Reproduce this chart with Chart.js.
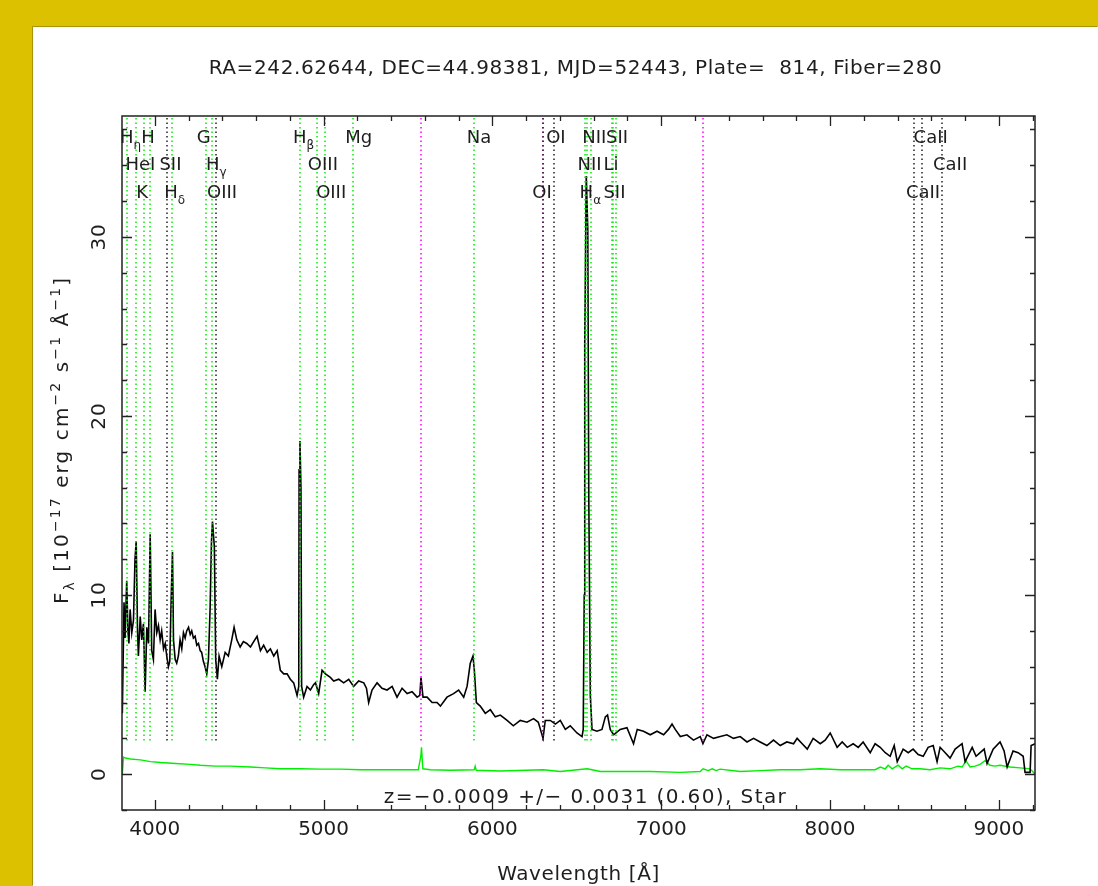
<!DOCTYPE html>
<html>
<head>
<meta charset="utf-8">
<script src="https://cdn.jsdelivr.net/npm/chart.js@4/dist/chart.umd.min.js"></script>
<style>
  html, body { margin: 0; padding: 0; width: 1098px; height: 886px; overflow: hidden; background: #dcc100; }
  #panel { position: absolute; left: 33px; top: 27px; width: 1065px; height: 859px; background: #fff;
           box-shadow: -1px -1px 0 #a89300; }
  #wrap { position: absolute; left: 0; top: 0; width: 1098px; height: 886px; }
</style>
</head>
<body>
<div id="panel"></div>
<div id="wrap"><canvas id="spec"></canvas></div>
<script>
// SDSS spectrum plot: flux (black), error (green), line markers (dotted).

const TITLE = 'RA=242.62644, DEC=44.98381, MJD=52443, Plate=  814, Fiber=280';
const ZTEXT = 'z=\u22120.0009 +/\u2212 0.0031 (0.60), Star';

const xMajor = [4000, 5000, 6000, 7000, 8000, 9000];
const yMajor = [0, 10, 20, 30];

// flux, 1e-17 erg/cm2/s/A
const specWave = [
  3808, 3818, 3824, 3834, 3841, 3847, 3854, 3864, 3874, 3883, 3890, 3898, 3903, 3914, 3923, 3933,
  3943, 3953, 3963, 3973, 3982, 3992, 4002, 4012, 4022, 4032, 4041, 4052, 4062, 4071, 4081, 4089,
  4097, 4105, 4111, 4121, 4130, 4140, 4150, 4160, 4170, 4180, 4189, 4200, 4210, 4219, 4229, 4239,
  4249, 4259, 4269, 4278, 4288, 4298, 4308, 4318, 4328, 4336, 4342, 4353, 4361, 4371, 4381, 4397,
  4407, 4417, 4436, 4456, 4470, 4486, 4506, 4525, 4545, 4567, 4586, 4606, 4626, 4645, 4666, 4685,
  4705, 4725, 4744, 4764, 4784, 4803, 4823, 4843, 4853, 4855, 4860, 4866, 4870, 4882, 4902, 4922,
  4941, 4952, 4971, 4991, 5011, 5040, 5060, 5090, 5119, 5149, 5178, 5208, 5238, 5254, 5267, 5287,
  5317, 5346, 5376, 5406, 5435, 5465, 5495, 5524, 5554, 5570, 5577, 5589, 5613, 5643, 5672, 5692,
  5731, 5770, 5800, 5830, 5850, 5869, 5885, 5893, 5905, 5928, 5958, 5988, 6017, 6047, 6087, 6124,
  6165, 6205, 6244, 6272, 6300, 6313, 6343, 6373, 6402, 6432, 6461, 6501, 6531, 6538, 6544, 6547,
  6556, 6565, 6571, 6580, 6590, 6619, 6649, 6669, 6682, 6698, 6718, 6757, 6797, 6836, 6858, 6895,
  6935, 6975, 7014, 7043, 7064, 7083, 7113, 7152, 7191, 7231, 7247, 7271, 7310, 7350, 7389, 7428,
  7468, 7508, 7547, 7586, 7626, 7665, 7705, 7744, 7784, 7805, 7835, 7865, 7900, 7942, 7971, 8001,
  8042, 8072, 8102, 8137, 8167, 8196, 8238, 8267, 8297, 8327, 8356, 8380, 8398, 8433, 8463, 8492,
  8522, 8552, 8581, 8611, 8634, 8652, 8682, 8711, 8741, 8782, 8800, 8842, 8865, 8889, 8913, 8930,
  8966, 9007, 9031, 9049, 9084, 9114, 9144, 9155, 9185, 9191, 9215,
];
const specFlux = [
  3.4, 9.6, 7.6, 10.8, 8.0, 7.3, 9.2, 7.9, 8.6, 12.0, 13.0, 8.0, 6.6, 8.8, 7.5, 8.4,
  4.6, 8.2, 7.3, 13.4, 6.9, 6.4, 9.2, 7.9, 8.3, 7.5, 8.0, 7.0, 7.3, 6.6, 6.0, 6.3,
  9.7, 12.4, 7.5, 6.4, 6.2, 6.6, 7.5, 7.0, 7.9, 7.6, 8.0, 8.2, 7.8, 8.0, 7.6, 7.7,
  7.2, 7.3, 6.9, 6.8, 6.3, 6.0, 5.6, 6.4, 9.3, 13.0, 14.1, 12.7, 6.4, 5.3, 6.6, 6.0,
  6.4, 6.8, 6.6, 7.5, 8.2, 7.5, 7.1, 7.4, 7.3, 7.1, 7.4, 7.7, 6.9, 7.2, 6.8, 7.0,
  6.6, 6.9, 5.8, 5.6, 5.6, 5.3, 5.1, 4.4, 4.9, 17.0, 18.6, 16.0, 4.9, 4.3, 4.9, 4.7,
  5.0, 5.1, 4.5, 5.8, 5.6, 5.4, 5.2, 5.3, 5.1, 5.3, 4.9, 5.2, 5.1, 4.8, 4.0, 4.7,
  5.1, 4.8, 4.7, 4.9, 4.3, 4.8, 4.5, 4.6, 4.3, 4.4, 5.4, 4.3, 4.3, 4.0, 4.0, 3.8,
  4.3, 4.5, 4.7, 4.3, 4.9, 6.2, 6.6, 5.8, 4.0, 3.8, 3.4, 3.6, 3.2, 3.3, 3.0, 2.7,
  3.0, 2.9, 3.1, 2.9, 2.0, 3.0, 3.0, 2.8, 3.0, 2.5, 2.7, 2.3, 2.1, 2.5, 10.0, 24.0,
  33.4, 30.4, 15.4, 4.4, 2.5, 2.4, 2.5, 3.2, 3.3, 2.5, 2.2, 2.5, 2.6, 1.7, 2.5, 2.4,
  2.2, 2.4, 2.2, 2.5, 2.8, 2.5, 2.1, 2.2, 1.9, 2.1, 1.7, 2.2, 2.0, 2.1, 2.2, 2.0,
  2.1, 1.8, 2.0, 1.8, 1.6, 1.9, 1.6, 1.8, 1.7, 2.0, 1.7, 1.4, 2.0, 1.7, 1.9, 2.3,
  1.5, 1.8, 1.5, 1.7, 1.5, 1.8, 1.2, 1.7, 1.5, 1.2, 1.0, 1.6, 0.7, 1.4, 1.2, 1.4,
  1.1, 1.0, 1.5, 1.6, 0.7, 1.5, 1.2, 0.9, 1.4, 1.7, 0.7, 1.5, 1.0, 1.2, 1.4, 0.6,
  1.4, 1.8, 1.3, 0.4, 1.3, 1.2, 1.0, 0.1, 0.1, 1.6, 1.7,
];

// 1-sigma error spectrum
const errWave = [
  3808, 3815, 3827, 3856, 3915, 3975, 4034, 4123, 4211, 4270, 4359, 4448, 4567, 4656, 4744, 4863,
  4981, 5099, 5218, 5336, 5455, 5561, 5576, 5580, 5588, 5632, 5750, 5892, 5898, 5904, 6047, 6301,
  6402, 6562, 6639, 6935, 7112, 7231, 7248, 7278, 7302, 7325, 7349, 7467, 7586, 7704, 7823, 7941,
  8060, 8178, 8267, 8297, 8327, 8344, 8368, 8403, 8427, 8451, 8486, 8533, 8592, 8652, 8711, 8758,
  8782, 8806, 8829, 8859, 8889, 8918, 8948, 8977, 9007, 9066, 9126, 9185, 9215,
];
const errFlux = [
  0.0, 0.95, 0.9, 0.85, 0.8, 0.7, 0.65, 0.6, 0.55, 0.5, 0.45, 0.45, 0.4, 0.35, 0.3, 0.3,
  0.28, 0.28, 0.25, 0.25, 0.25, 0.25, 1.0, 1.5, 0.3, 0.25, 0.22, 0.25, 0.45, 0.22, 0.18, 0.25,
  0.15, 0.3, 0.15, 0.15, 0.1, 0.15, 0.3, 0.2, 0.3, 0.2, 0.28, 0.15, 0.2, 0.25, 0.25, 0.3,
  0.25, 0.25, 0.25, 0.4, 0.3, 0.5, 0.3, 0.5, 0.3, 0.45, 0.3, 0.3, 0.25, 0.35, 0.3, 0.45,
  0.4, 0.75, 0.4, 0.45, 0.55, 0.75, 0.5, 0.45, 0.5, 0.4, 0.35, 0.3, 0.0,
];

// line markers
const markWave = [3835, 3889, 3934, 3969, 4072, 4102, 4305, 4341, 4363, 4861, 4959, 5007, 5175, 5577,
  5892, 6300, 6300, 6363, 6548, 6563, 6583, 6708, 6716, 6731, 7246, 8498, 8542, 8662];
const markKind = ['e', 'e', 'e', 'e', 'a', 'e', 'e', 'e', 'a', 'e', 'e', 'e', 'e', 's',
  'e', 's', 'a', 'a', 'e', 'e', 'e', 'e', 'e', 'e', 's', 'a', 'a', 'a'];

const labelText = ['H', 'H', 'G', 'H', 'Mg', 'Na', 'OI', 'NII', 'SII', 'CaII',
  'HeI', 'SII', 'H', 'OIII', 'NII', 'Li', 'CaII',
  'K', 'H', 'OIII', 'OIII', 'OI', 'H', 'SII', 'CaII'];
const labelSub = ['\u03b7', '', '', '\u03b2', '', '', '', '', '', '',
  '', '', '\u03b3', '', '', '', '',
  '', '\u03b4', '', '', '', '\u03b1', '', ''];
const labelRow = [0, 0, 0, 0, 0, 0, 0, 0, 0, 0,
  1, 1, 1, 1, 1, 1, 1,
  2, 2, 2, 2, 2, 2, 2, 2];
const labelWave = [3857, 3960, 4290, 4882, 5208, 5921, 6376, 6604, 6738, 8596,
  3915, 4093, 4364, 4996, 6575, 6703, 8711,
  3925, 4118, 4399, 5045, 6294, 6580, 6723, 8551];

const FONT = '"DejaVu Sans", sans-serif';
const INK = '#1e1e1e';
const KIND_COLOR = { e: '#00ee00', a: '#222222', s: '#ff00ff' };

function richWidth(ctx, parts, size, ratio) {
  let w = 0;
  for (const p of parts) {
    ctx.font = `${p.s ? Math.round(size * ratio) : size}px ${FONT}`;
    w += ctx.measureText(p.t).width;
  }
  return w;
}

// parts: {t, s: 'sub'|'sup'|undefined}; draws centred on x, baseline y
function drawRich(ctx, parts, x, y, size, ratio = 0.68, spacing = 0) {
  ctx.letterSpacing = spacing + 'px';
  const w = richWidth(ctx, parts, size, ratio);
  let cx = x - w / 2;
  ctx.textAlign = 'left';
  ctx.textBaseline = 'alphabetic';
  for (const p of parts) {
    const sz = p.s ? Math.round(size * ratio) : size;
    ctx.font = `${sz}px ${FONT}`;
    const dy = p.s === 'sub' ? size * 0.32 : p.s === 'sup' ? -size * 0.42 : 0;
    ctx.fillText(p.t, cx, y + dy);
    cx += ctx.measureText(p.t).width;
  }
  ctx.letterSpacing = '0px';
}

const markerPlugin = {
  id: 'line-markers',
  afterDatasetsDraw(chart) {
    const { ctx, chartArea, scales } = chart;
    const yb = scales.y.getPixelForValue(1.85);
    ctx.save();
    ctx.lineWidth = 1.5;
    ctx.setLineDash([1.5, 3]);
    markWave.forEach((w, i) => {
      const px = Math.round(scales.x.getPixelForValue(w));
      ctx.strokeStyle = KIND_COLOR[markKind[i]];
      ctx.beginPath();
      ctx.moveTo(px, chartArea.top + 2);
      ctx.lineTo(px, yb);
      ctx.stroke();
    });
    ctx.setLineDash([]);
    // labels in three rows
    ctx.fillStyle = INK;
    const rows = [27, 54, 82];
    labelText.forEach((t, i) => {
      const px = scales.x.getPixelForValue(labelWave[i]);
      const parts = [{ t }];
      if (labelSub[i]) parts.push({ t: labelSub[i], s: 'sub' });
      drawRich(ctx, parts, px, chartArea.top + rows[labelRow[i]], 18);
    });
    ctx.restore();
  },
};

const framePlugin = {
  id: 'sdss-frame',
  afterDraw(chart) {
    const { ctx, chartArea: a, scales } = chart;
    const xs = scales.x, ys = scales.y;
    ctx.save();
    ctx.strokeStyle = '#222';
    ctx.lineWidth = 1.5;
    ctx.strokeRect(a.left, a.top, a.right - a.left, a.bottom - a.top);
    ctx.lineWidth = 1.3;
    ctx.beginPath();
    for (let v = 4000; v <= xs.max; v += 200) {
      const px = Math.round(xs.getPixelForValue(v)) + 0.5;
      const len = v % 1000 === 0 ? 10 : 5;
      ctx.moveTo(px, a.bottom); ctx.lineTo(px, a.bottom - len);
      ctx.moveTo(px, a.top); ctx.lineTo(px, a.top + len);
    }
    for (let v = -2; v <= ys.max; v += 2) {
      const py = Math.round(ys.getPixelForValue(v)) + 0.5;
      const len = v % 10 === 0 ? 10 : 5;
      ctx.moveTo(a.left, py); ctx.lineTo(a.left + len, py);
      ctx.moveTo(a.right, py); ctx.lineTo(a.right - len, py);
    }
    ctx.stroke();

    ctx.fillStyle = INK;
    // rotated y tick labels
    ctx.font = `20px ${FONT}`;
    ctx.letterSpacing = '1px';
    ctx.textAlign = 'center';
    ctx.textBaseline = 'middle';
    for (const v of yMajor) {
      ctx.save();
      ctx.translate(a.left - 22, ys.getPixelForValue(v));
      ctx.rotate(-Math.PI / 2);
      ctx.fillText(String(v), 0, 0);
      ctx.restore();
    }
    ctx.letterSpacing = '0px';

    const cx = (a.left + a.right) / 2;
    drawRich(ctx, [{ t: TITLE }], cx - 3, 74, 20, 0.68, 0.6);
    drawRich(ctx, [{ t: ZTEXT }], cx + 7, 803, 20, 0.68, 1.4);
    drawRich(ctx, [{ t: 'Wavelength [\u00c5]' }], cx, 880, 20, 0.68, 0.6);

    ctx.save();
    ctx.translate(a.left - 54, 440);
    ctx.rotate(-Math.PI / 2);
    drawRich(ctx, [
      { t: 'F' }, { t: '\u03bb', s: 'sub' }, { t: ' [10' }, { t: '\u221217', s: 'sup' },
      { t: ' erg cm' }, { t: '\u22122', s: 'sup' }, { t: ' s' }, { t: '\u22121', s: 'sup' },
      { t: ' \u00c5' }, { t: '\u22121', s: 'sup' }, { t: ']' },
    ], 0, 0, 20, 0.72, 2.1);
    ctx.restore();
    ctx.restore();
  },
};

const specData = specWave.map((w, i) => ({ x: w, y: specFlux[i] }));
const errData = errWave.map((w, i) => ({ x: w, y: errFlux[i] }));

new Chart(document.getElementById('spec'), {
  type: 'line',
  data: {
    datasets: [
      { label: 'flux', data: specData, parsing: false, borderColor: '#000', borderWidth: 1.6,
        pointRadius: 0, tension: 0, fill: false, order: 1 },
      { label: 'error', data: errData, parsing: false, borderColor: '#00ee00', borderWidth: 1.4,
        pointRadius: 0, tension: 0, fill: false, order: 2 },
    ],
  },
  options: {
    responsive: true, maintainAspectRatio: false, animation: false,
    layout: { padding: { top: 116, right: 63, left: 0, bottom: 0 } },
    plugins: { legend: { display: false }, tooltip: { enabled: false } },
    events: [],
    scales: {
      x: {
        type: 'linear', min: 3806, max: 9214, position: 'bottom',
        afterFit: (s) => { s.height = 76; },
        afterBuildTicks: (s) => { s.ticks = xMajor.map(v => ({ value: v })); },
        ticks: { color: INK, font: { family: FONT, size: 20 }, padding: 8, maxRotation: 0,
                 autoSkip: false, callback: (v) => String(v) },
        grid: { display: false, drawTicks: false },
        border: { display: false },
      },
      y: {
        type: 'linear', min: -2.0, max: 36.75,
        afterFit: (s) => { s.width = 122; },
        ticks: { display: false },
        grid: { display: false, drawTicks: false },
        border: { display: false },
      },
    },
  },
  plugins: [markerPlugin, framePlugin],
});
</script>
</body>
</html>
